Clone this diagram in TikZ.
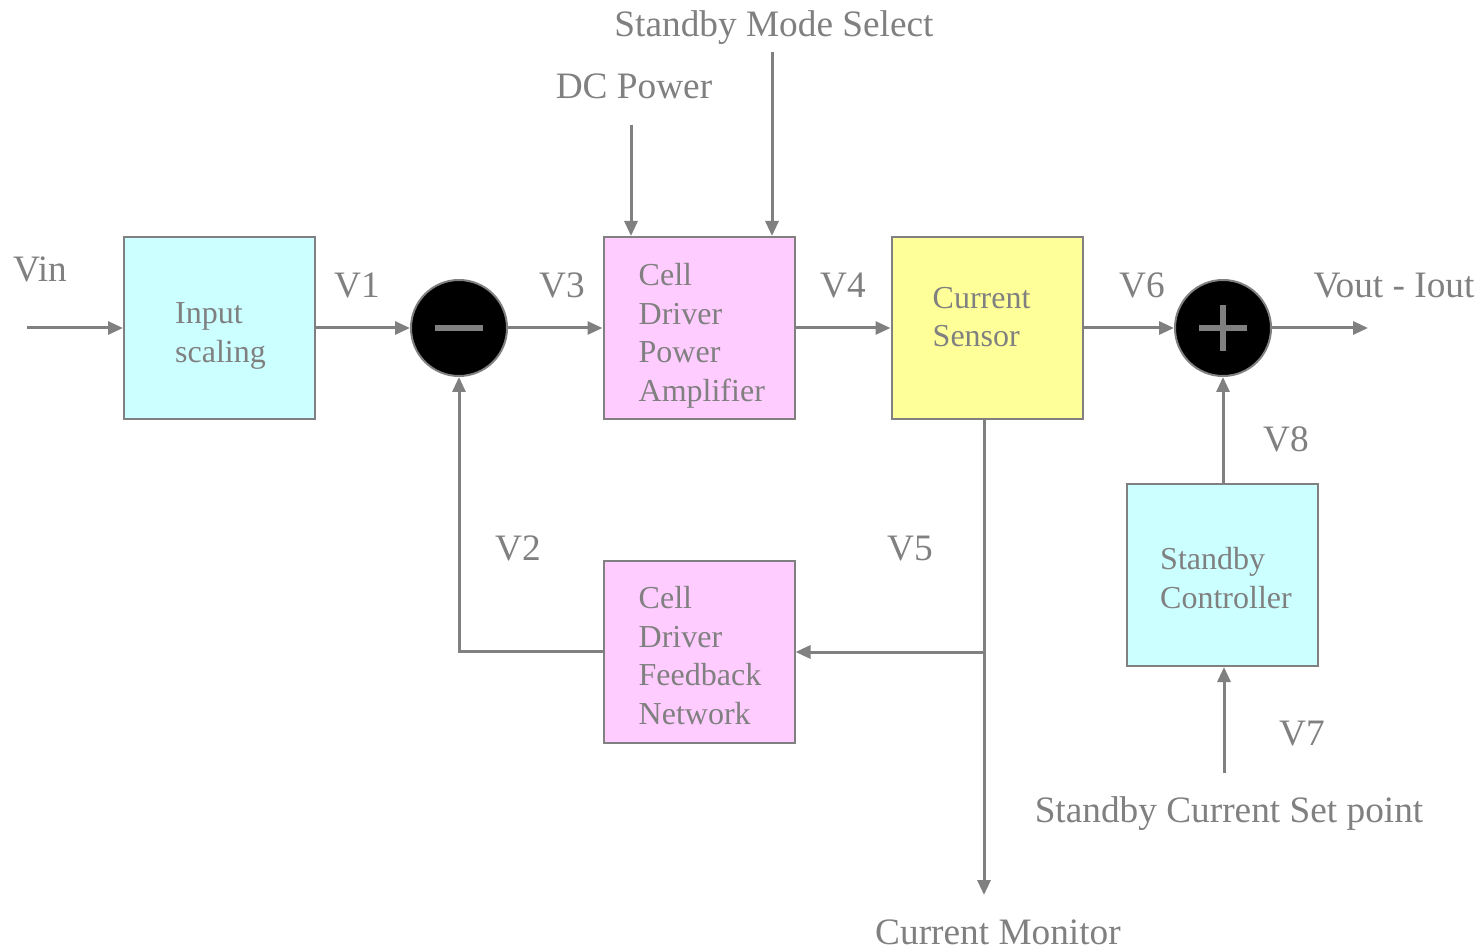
\documentclass[tikz,border=0pt]{standalone}
\usepackage{fontspec}
\setmainfont{Liberation Serif}
\usetikzlibrary{arrows.meta}
\definecolor{ln}{HTML}{808080}
\definecolor{cyanf}{HTML}{CCFFFF}
\definecolor{pinkf}{HTML}{FFCCFF}
\definecolor{yelf}{HTML}{FFFF99}
\tikzset{
  blk/.style={draw=ln, line width=2pt, minimum width=191pt, minimum height=182pt, inner sep=0pt},
  boxtxt/.style={text=ln, font=\fontsize{32}{38.5}\selectfont, align=left, inner sep=0pt, anchor=west},
  lbl/.style={text=ln, font=\fontsize{37.3}{44}\selectfont, inner sep=0pt, anchor=base},
  arr/.style={draw=ln, line width=3pt, -{Triangle[length=15pt,width=13pt]}},
  sumnode/.style={circle, fill=black, draw=ln, line width=2pt, minimum size=96pt, inner sep=0pt}
}
\begin{document}
\begin{tikzpicture}[x=1pt,y=-1pt]
\useasboundingbox[fill=white] (0,0) rectangle (1483,949);
% blocks
\node[blk, fill=cyanf] (inp) at (219.5,328) {};
\node[blk, fill=pinkf] (amp) at (699,328) {};
\node[blk, fill=yelf] (cs) at (987,328) {};
\node[blk, fill=pinkf] (fb) at (699,651.5) {};
\node[blk, fill=cyanf] (sc) at (1222.5,575) {};
\node[boxtxt] (inpT) at ([xshift=52pt,yshift=-8pt]inp.west) {Input\\scaling};
\node[boxtxt] (ampT) at ([xshift=36pt,yshift=-8pt]amp.west) {Cell\\Driver\\Power\\Amplifier};
\node[boxtxt] (csT) at ([xshift=42pt,yshift=11pt]cs.west) {Current\\Sensor};
\node[boxtxt] (fbT) at ([xshift=36pt,yshift=-4pt]fb.west) {Cell\\Driver\\Feedback\\Network};
\node[boxtxt] (scT) at ([xshift=34pt,yshift=-3pt]sc.west) {Standby\\Controller};
% summing junctions
\node[sumnode] (sub) at (459,328) {};
\node[sumnode] (add) at (1223,328) {};
\fill[ln] ([xshift=-24pt,yshift=-3pt]sub.center) rectangle ([xshift=24pt,yshift=3pt]sub.center);
\fill[ln] ([xshift=-24pt,yshift=-3pt]add.center) rectangle ([xshift=24pt,yshift=3pt]add.center);
\fill[ln] ([xshift=-3pt,yshift=-23pt]add.center) rectangle ([xshift=3pt,yshift=23pt]add.center);
% connectors
\coordinate (vin) at (27,328);
\coordinate (out) at (1368,328);
\coordinate (dcp) at (631,125);
\coordinate (sms) at (772,52);
\coordinate (cm) at (984,895);
\coordinate (j) at (984,652);
\coordinate (sp) at (1224,773);
\draw[arr] (vin) -- (inp.west);
\draw[arr] (inp.east) -- (sub.west);
\draw[arr] (sub.east) -- (amp.west);
\draw[arr] (amp.east) -- (cs.west);
\draw[arr] (cs.east) -- (add.west);
\draw[arr] (add.east) -- (out);
\draw[arr] (dcp) -- (dcp |- amp.north);
\draw[arr] (sms) -- (sms |- amp.north);
\draw[arr] (cs.south -| cm) -- (cm);
\draw[arr] (j) -- (fb.east |- j);
\draw[arr] (fb.west) -- (sub.south |- fb.west) -- (sub.south);
\draw[arr] (sc.north -| add.south) -- (add.south);
\draw[arr] (sp) -- (sp |- sc.south);
% labels
\node[lbl] (lvin) at (40,282) {Vin};
\node[lbl] (lv1) at (357,298) {V1};
\node[lbl] (lv3) at (562,298) {V3};
\node[lbl] (lv4) at (843,298) {V4};
\node[lbl] (lv6) at (1142,298) {V6};
\node[lbl] (lout) at (1394,298) {Vout - Iout};
\node[lbl] (lv2) at (518,560) {V2};
\node[lbl] (lv5) at (910,560) {V5};
\node[lbl] (lv8) at (1286,451) {V8};
\node[lbl] (lv7) at (1302,745) {V7};
\node[lbl] (lsms) at (774,37) {Standby Mode Select};
\node[lbl] (ldc) at (634,99) {DC Power};
\node[lbl] (lscs) at (1229,822) {Standby Current Set point};
\node[lbl] (lcm) at (998,944) {Current Monitor};
\end{tikzpicture}
\end{document}
